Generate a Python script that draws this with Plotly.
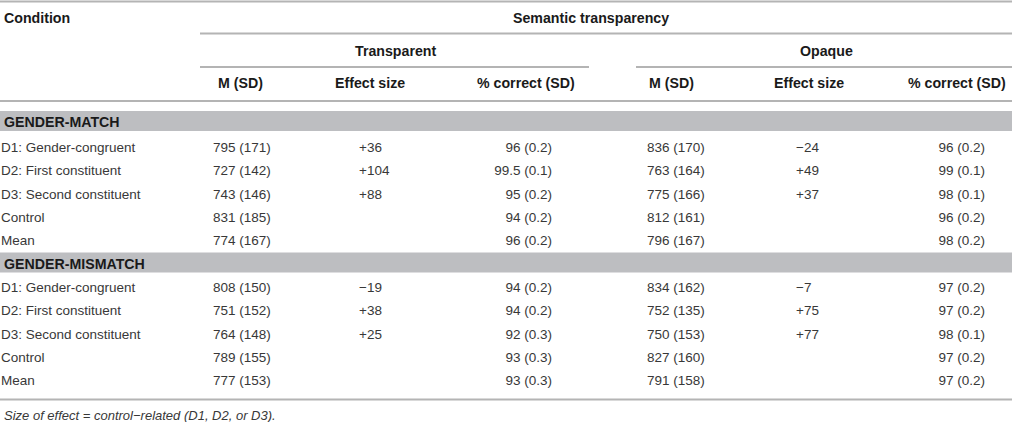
#!/usr/bin/env python3
"""Table of response times by condition and semantic transparency, drawn as a Plotly figure."""
import plotly.graph_objects as go

CONDITIONS = ["D1: Gender-congruent", "D2: First constituent", "D3: Second constituent",
              "Control", "Mean"]
SECTIONS = ["GENDER-MATCH", "GENDER-MISMATCH"]

match_trans_m = ["795 (171)", "727 (142)", "743 (146)", "831 (185)", "774 (167)"]
match_trans_eff = ["+36", "+104", "+88", "", ""]
match_trans_pc = ["96 (0.2)", "99.5 (0.1)", "95 (0.2)", "94 (0.2)", "96 (0.2)"]
match_opq_m = ["836 (170)", "763 (164)", "775 (166)", "812 (161)", "796 (167)"]
match_opq_eff = ["\u221224", "+49", "+37", "", ""]
match_opq_pc = ["96 (0.2)", "99 (0.1)", "98 (0.1)", "96 (0.2)", "98 (0.2)"]

mismatch_trans_m = ["808 (150)", "751 (152)", "764 (148)", "789 (155)", "777 (153)"]
mismatch_trans_eff = ["\u221219", "+38", "+25", "", ""]
mismatch_trans_pc = ["94 (0.2)", "94 (0.2)", "92 (0.3)", "93 (0.3)", "93 (0.3)"]
mismatch_opq_m = ["834 (162)", "752 (135)", "750 (153)", "827 (160)", "791 (158)"]
mismatch_opq_eff = ["\u22127", "+75", "+77", "", ""]
mismatch_opq_pc = ["97 (0.2)", "97 (0.2)", "98 (0.1)", "97 (0.2)", "97 (0.2)"]

SUB_HEADERS = ["M (SD)", "Effect size", "% correct (SD)"]
FOOTNOTE = "Size of effect = control\u2212related (D1, D2, or D3)."

# Layout (pixel space of a 1012 x 422 canvas)
W, H = 1012, 422
FONT = "Liberation Sans, Arial, Helvetica, sans-serif"
TXT = "#383838"
HEAD = "#1a1a1a"
LINE = "#b4b4b4"
BAND = "#bdbec1"
FS = 13.5
FS_HEAD = 14.2

# column anchors: (x, textposition)
COLS = [
    (213, "middle right"), (359, "middle right"), (552, "middle left"),
    (647, "middle right"), (796, "middle right"), (985, "middle left"),
]
HEAD_X = [240, 370, 577, 671, 809, 1008]
ROW_H = 23.4
BAND_H = 20
SECTION_TOP = [111, 252.5]
ROW_START = [148.5, 288.5]

match_cols = [match_trans_m, match_trans_eff, match_trans_pc,
              match_opq_m, match_opq_eff, match_opq_pc]
mismatch_cols = [mismatch_trans_m, mismatch_trans_eff, mismatch_trans_pc,
                 mismatch_opq_m, mismatch_opq_eff, mismatch_opq_pc]

fig = go.Figure()
shapes = []
annotations = []


def hline(y, x0=0, x1=W, width=2):
    shapes.append(dict(type="line", xref="x", yref="y", x0=x0, x1=x1, y0=y, y1=y,
                       line=dict(color=LINE, width=width), layer="below"))


def label(x, y, text, anchor, bold=False, size=None, color=None, italic=False):
    if size is None:
        size = FS_HEAD if bold else FS
    if bold:
        text = f"<b>{text}</b>"
    if italic:
        text = f"<i>{text}</i>"
    annotations.append(dict(x=x, y=y, xref="x", yref="y", text=text, showarrow=False,
                            xanchor=anchor, yanchor="middle",
                            font=dict(family=FONT, size=size,
                                      color=color or (HEAD if bold else TXT))))


# header block
hline(1.5)
label(2, 18, "Condition", "left", bold=True)
label(591, 18, "Semantic transparency", "center", bold=True)
hline(33.5, 200, W)
label(395, 51, "Transparent", "center", bold=True)
label(826, 51, "Opaque", "center", bold=True)
hline(67, 200, 589)
hline(67, 636, W)
for i, h in enumerate(SUB_HEADERS * 2):
    anchor = "right" if h.startswith("%") else "center"
    label(HEAD_X[i], 83, h, anchor, bold=True)
hline(101)

# body sections
for s, (name, cols) in enumerate(zip(SECTIONS, [match_cols, mismatch_cols])):
    top = SECTION_TOP[s]
    shapes.append(dict(type="rect", xref="x", yref="y", x0=0, x1=W, y0=top, y1=top + BAND_H,
                       fillcolor=BAND, line=dict(width=0), layer="below"))
    label(2, top + BAND_H / 2 + 1, name, "left", bold=True)
    ys = [ROW_START[s] + i * ROW_H for i in range(len(CONDITIONS))]
    fig.add_trace(go.Scatter(
        x=[1] * len(CONDITIONS), y=ys, mode="text", text=CONDITIONS,
        textposition="middle right", textfont=dict(family=FONT, size=FS, color=TXT),
        hoverinfo="skip", showlegend=False,
    ))
    for (x, pos), vals in zip(COLS, cols):
        fig.add_trace(go.Scatter(
            x=[x] * len(vals), y=ys, mode="text", text=vals,
            textposition=pos, textfont=dict(family=FONT, size=FS, color=TXT),
            hoverinfo="skip", showlegend=False,
        ))

hline(399.5)
label(2, 415.5, FOOTNOTE, "left", italic=True, size=13)

fig.update_layout(
    width=W, height=H,
    margin=dict(l=0, r=0, t=0, b=0),
    paper_bgcolor="white", plot_bgcolor="white",
    shapes=shapes, annotations=annotations,
    xaxis=dict(range=[0, W], visible=False, fixedrange=True),
    yaxis=dict(range=[H, 0], visible=False, fixedrange=True),
)

fig.write_html(
    "out.html",
    config={"displayModeBar": False, "staticPlot": True},
    post_script="document.body.style.margin='0';document.body.style.overflow='hidden';",
)
